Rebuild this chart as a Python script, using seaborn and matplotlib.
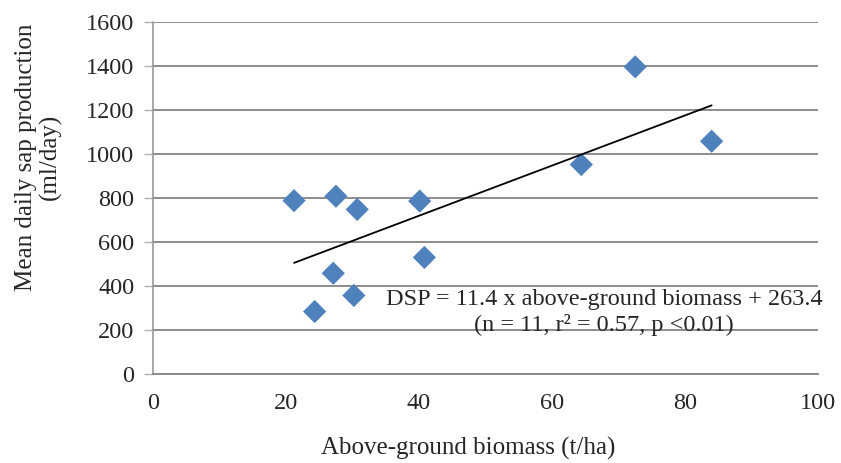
import matplotlib
matplotlib.use("Agg")
import matplotlib.pyplot as plt
import seaborn as sns
import pandas as pd
import numpy as np

biomass = [21.2, 24.3, 27.1, 27.5, 30.2, 30.7, 40.1, 40.8, 64.4, 72.5, 84.0]
sap = [788, 284, 458, 808, 357, 748, 786, 530, 952, 1396, 1058]
slope = 11.4
intercept = 263.4
xticks = [0, 20, 40, 60, 80, 100]
yticks = [0, 200, 400, 600, 800, 1000, 1200, 1400, 1600]

df = pd.DataFrame({"biomass": biomass, "sap": sap})

sns.set_style("white")
plt.rcParams["font.family"] = ["Liberation Serif", "DejaVu Serif"]

fig = plt.figure(figsize=(8.41, 4.63), dpi=100)
ax = fig.add_axes([0.182, 0.1922, 0.7907, 0.7603])

for y in yticks:
    ax.axhline(y, color="#8c8c8c", lw=1.4, zorder=0)

sns.scatterplot(data=df, x="biomass", y="sap", marker="D", s=140,
                color="#4F81BD", edgecolor="none", ax=ax, zorder=3)

xl = np.array([min(biomass), max(biomass)])
ax.plot(xl, slope * xl + intercept, color="black", lw=1.3, zorder=4)

ax.set_xlim(0, 100)
ax.set_ylim(0, 1600)
ax.set_xticks(xticks)
ax.set_yticks(yticks)
ax.tick_params(axis="x", direction="in", length=6, color="#8c8c8c", width=1.2,
               labelsize=17.5, pad=14)
ax.tick_params(axis="y", direction="out", length=6.5, color="#b0b0b0", width=1,
               labelsize=17.5, pad=7, left=True)
for s in ["top", "right"]:
    ax.spines[s].set_visible(False)
ax.spines["bottom"].set_color("#8c8c8c")
ax.spines["bottom"].set_linewidth(1.4)
ax.spines["left"].set_color("#999999")
ax.spines["left"].set_linestyle((0, (1, 1)))
ax.spines["left"].set_linewidth(1.2)

ax.set_xlabel("Above-ground biomass (t/ha)", fontsize=18)
ax.xaxis.set_label_coords(0.474, -0.178)
ax.set_ylabel("Mean daily sap production\n(ml/day)", fontsize=18,
              linespacing=1.1)
ax.yaxis.set_label_coords(-0.137, 0.616)

fig.text(0.718, 0.325, "DSP = 11.4 x above-ground biomass + 263.4\n(n = 11, r\u00b2 = 0.57, p <0.01)",
         ha="center", va="center", fontsize=17.5, linespacing=1.2, multialignment="center")

fig.savefig("out.png", dpi=100)
